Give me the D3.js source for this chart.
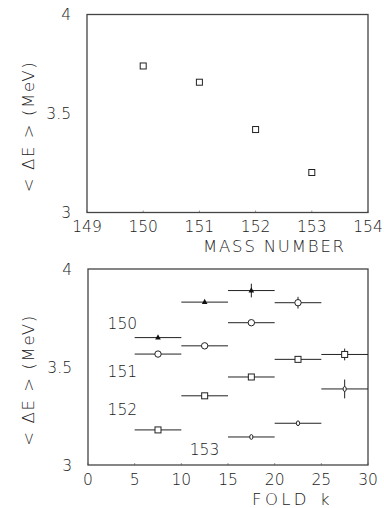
<!DOCTYPE html>
<html><head><meta charset="utf-8">
<script src="https://cdn.jsdelivr.net/npm/d3@7"></script>
<style>body{margin:0;background:#fff}text{font-family:"DejaVu Sans","Liberation Sans",sans-serif;font-weight:200;fill:#222}</style>
</head><body><svg id="c" width="384" height="508"></svg>
<script>
// Top panel
const massNumbers = [150, 151, 152, 153];
const meanDE = [3.74, 3.658, 3.419, 3.202];
const topXTicks = [149, 150, 151, 152, 153, 154];
const yTicks = [3, 3.5, 4];
const yTickLabels = ["3", "3.5", "4"];
// Bottom panel: fold bins (centres), half-width 2.5
const foldBinHalf = 2.5;
const fold150 = [7.5, 12.5, 17.5];
const de150 = [3.650, 3.831, 3.890];
const err150 = [0, 0, 0.035];
const fold151 = [7.5, 12.5, 17.5, 22.5];
const de151 = [3.566, 3.608, 3.726, 3.828];
const err151 = [0, 0, 0, 0.03];
const fold152 = [7.5, 12.5, 17.5, 22.5, 27.5];
const de152 = [3.179, 3.353, 3.449, 3.539, 3.564];
const err152 = [0, 0, 0, 0, 0.03];
const fold153 = [17.5, 22.5, 27.5];
const de153 = [3.143, 3.213, 3.388];
const err153 = [0, 0, 0.048];
const botXTicks = [0, 5, 10, 15, 20, 25, 30];
const seriesLabels = ["150", "151", "152", "153"];
const labelPos = [[2.1, 3.724], [2.1, 3.48], [2.1, 3.283], [10.9, 3.077]];

const svg = d3.select("#c");
const FS = 15.5;
const TFS = 16.5;

function panel(x0, x1, y0, y1, xDomain, xTicks, titleParts, xTitleX, xTitleLS) {
  const x = d3.scaleLinear().domain(xDomain).range([x0, x1]);
  const y = d3.scaleLinear().domain([3, 4]).range([y1, y0]);
  const g = svg.append("g");
  g.selectAll(".xt").data(xTicks).join("line")
    .attr("x1", d => x(d)).attr("x2", d => x(d)).attr("y1", y1).attr("y2", y1 - 2)
    .attr("stroke", "#999").attr("stroke-width", 1);
  g.selectAll(".xl").data(xTicks).join("text")
    .attr("x", d => x(d)).attr("y", y1 + 14).attr("dy", "0.36em")
    .attr("text-anchor", "middle").attr("font-size", FS).text(d => d);
  g.selectAll(".yl").data(yTicks).join("text")
    .attr("x", x0 - 16).attr("y", d => y(d)).attr("dy", "0.36em")
    .attr("text-anchor", "end").attr("font-size", FS).text((d, i) => yTickLabels[i]);
  g.append("rect").attr("x", x0).attr("y", y0).attr("width", x1 - x0).attr("height", y1 - y0)
    .attr("fill", "none").attr("stroke", "#444").attr("stroke-width", 1.3);
  const t = g.append("text").attr("x", xTitleX).attr("y", y1 + 34).attr("dy", "0.36em")
    .attr("text-anchor", "start").attr("font-size", TFS).attr("letter-spacing", xTitleLS);
  titleParts.forEach((p, i) => t.append("tspan").attr("dx", i === 0 ? 0 : 10).text(p));
  g.append("text").attr("transform", `translate(28,${(y0 + y1) / 2 + 13}) rotate(-90)`)
    .attr("dy", "0.36em").attr("text-anchor", "middle").attr("font-size", TFS)
    .attr("letter-spacing", 1.6).text("< \u0394E > (MeV)");
  return {x, y, g};
}

// Top
const T = panel(87, 368, 14.5, 212.5, [149, 154], topXTicks, ["MASS NUMBER"], 203, 1.8);
T.g.selectAll(".pt").data(massNumbers).join("rect")
  .attr("x", (d, i) => T.x(d) - 3).attr("y", (d, i) => T.y(meanDE[i]) - 3)
  .attr("width", 6).attr("height", 6).attr("fill", "#fff").attr("stroke", "#222").attr("stroke-width", 1);

// Bottom
const B = panel(88, 368, 269, 465, [0, 30], botXTicks, ["FOLD", "k"], 252, 3.4);

function series(fx, fy, fe, shape) {
  const data = fx.map((d, i) => ({k: d, v: fy[i], e: fe[i]}));
  const g = B.g.append("g");
  g.selectAll(".h").data(data).join("line")
    .attr("x1", d => B.x(d.k - foldBinHalf)).attr("x2", d => B.x(d.k + foldBinHalf))
    .attr("y1", d => B.y(d.v)).attr("y2", d => B.y(d.v))
    .attr("stroke", "#222").attr("stroke-width", 1);
  g.selectAll(".v").data(data.filter(d => d.e > 0)).join("line")
    .attr("x1", d => B.x(d.k)).attr("x2", d => B.x(d.k))
    .attr("y1", d => B.y(d.v - d.e)).attr("y2", d => B.y(d.v + d.e))
    .attr("stroke", "#222").attr("stroke-width", 1);
  data.forEach(d => {
    const cx = B.x(d.k), cy = B.y(d.v);
    if (shape === "tri") {
      g.append("path").attr("d", `M${cx},${cy - 3.3}L${cx + 2.8},${cy + 2}L${cx - 2.8},${cy + 2}Z`).attr("fill", "#111");
    } else if (shape === "circle") {
      g.append("circle").attr("cx", cx).attr("cy", cy).attr("r", 3.2)
        .attr("fill", "#fff").attr("stroke", "#222").attr("stroke-width", 1);
    } else if (shape === "square") {
      g.append("rect").attr("x", cx - 3).attr("y", cy - 3).attr("width", 6).attr("height", 6)
        .attr("fill", "#fff").attr("stroke", "#222").attr("stroke-width", 1);
    } else {
      g.append("ellipse").attr("cx", cx).attr("cy", cy).attr("rx", 1.6).attr("ry", 2.4)
        .attr("fill", "#fff").attr("stroke", "#222").attr("stroke-width", 1);
    }
  });
}
series(fold150, de150, err150, "tri");
series(fold151, de151, err151, "circle");
series(fold152, de152, err152, "square");
series(fold153, de153, err153, "diamond");

B.g.selectAll(".sl").data(seriesLabels).join("text")
  .attr("x", (d, i) => B.x(labelPos[i][0])).attr("y", (d, i) => B.y(labelPos[i][1])).attr("dy", "0.36em")
  .attr("font-size", FS).text(d => d);
</script></body></html>
